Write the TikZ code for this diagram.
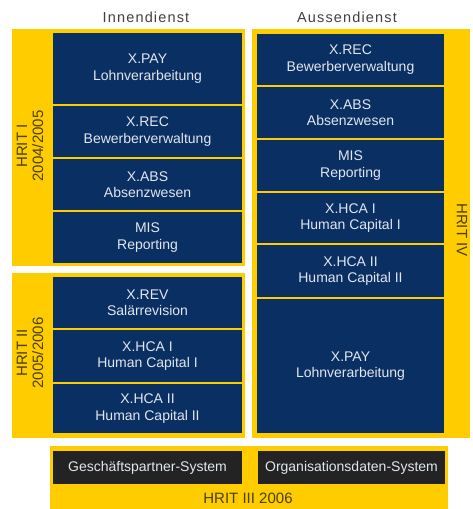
\documentclass[tikz,border=0pt]{standalone}
\usepackage{fontspec}
\setmainfont{Liberation Sans}
\newfontfamily\hdrfont[LetterSpace=8]{Liberation Sans}
\definecolor{hyellow}{HTML}{FFCC00}
\definecolor{hblue}{HTML}{0A2F62}
\definecolor{hdark}{HTML}{232323}
\definecolor{hlabel}{HTML}{4A3F05}
\definecolor{btext}{HTML}{E2E6EE}
\begin{document}
\begin{tikzpicture}[x=1pt,y=-1pt,
  ybox/.style={fill=hyellow, draw=none, inner sep=0pt},
  bbox/.style={fill=hblue, draw=none, inner sep=0pt, text=btext, align=center,
    font=\fontsize{14}{16.5}\selectfont, minimum width=189pt},
  rbox/.style={bbox, minimum width=187pt},
  dbox/.style={fill=hdark, draw=none, inner sep=0pt, text=btext,
    font=\fontsize{14}{16}\selectfont, minimum height=33pt},
  ylabel/.style={text=hlabel, align=center, font=\fontsize{15}{16}\selectfont},
  header/.style={text=black!75, font=\hdrfont\fontsize{14.5}{16}\selectfont}]
\useasboundingbox (0,0) rectangle (472,509);
% yellow frames
\node[ybox, minimum width=233pt, minimum height=237pt] (hrit1) at (128.5,147.5) {};
\node[ybox, minimum width=233pt, minimum height=165pt] (hrit2) at (128.5,355.5) {};
\node[ybox, minimum width=218pt, minimum height=409pt] (hrit4) at (361,233.5) {};
\node[ybox, minimum width=398pt, minimum height=63pt] (hrit3) at (249,477.5) {};
% headers
\node[header] (inn) at (146,17) {Innendienst};
\node[header] (aus) at (347,17) {Aussendienst};
% left column, HRIT I
\node[bbox, minimum height=71pt] (lpay) at (147.5,68.5) {X.PAY\\Lohnverarbeitung};
\node[bbox, minimum height=51pt] (lrec) at (147.5,131.5) {X.REC\\Bewerberverwaltung};
\node[bbox, minimum height=51pt] (labs) at (147.5,184.5) {X.ABS\\Absenzwesen};
\node[bbox, minimum height=51pt] (lmis) at (147.5,237.5) {MIS\\Reporting};
% left column, HRIT II
\node[bbox, minimum height=51pt] (lrev) at (147.5,302.5) {X.REV\\Salärrevision};
\node[bbox, minimum height=52pt] (lhca1) at (147.5,356) {X.HCA I\\Human Capital I};
\node[bbox, minimum height=49pt] (lhca2) at (147.5,408.5) {X.HCA II\\Human Capital II};
% right column, HRIT IV
\node[rbox, minimum height=51pt] (rrec) at (350.5,59.5) {X.REC\\Bewerberverwaltung};
\node[rbox, minimum height=51pt] (rabs) at (350.5,112.5) {X.ABS\\Absenzwesen};
\node[rbox, minimum height=51pt] (rmis) at (350.5,165.5) {MIS\\Reporting};
\node[rbox, minimum height=50pt] (rhca1) at (350.5,218) {X.HCA I\\Human Capital I};
\node[rbox, minimum height=52pt] (rhca2) at (350.5,271) {X.HCA II\\Human Capital II};
\node[rbox, minimum height=134pt] (rpay) at (350.5,366) {X.PAY\\Lohnverarbeitung};
% bottom, HRIT III
\node[dbox, minimum width=189pt] (gps) at (147.5,467.5) {Geschäftspartner-System};
\node[dbox, minimum width=187pt] (ods) at (351.5,467.5) {Organisationsdaten-System};
% labels
\node[ylabel, rotate=90] (l1) at (30,146) {HRIT I\\2004/2005};
\node[ylabel, rotate=90] (l2) at (30,353) {HRIT II\\2005/2006};
\node[ylabel, rotate=-90] (l4) at (462,230) {HRIT IV};
\node[ylabel] (l3) at (248,498) {HRIT III 2006};
\end{tikzpicture}
\end{document}
